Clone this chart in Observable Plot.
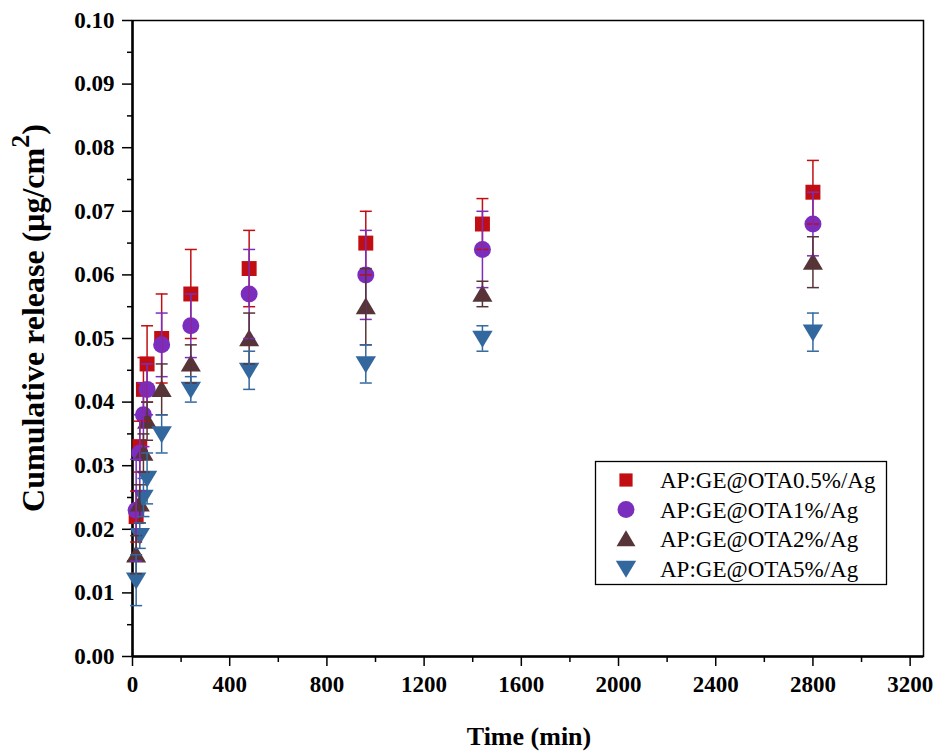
<!DOCTYPE html>
<html>
<head>
<meta charset="utf-8">
<script src="https://cdn.jsdelivr.net/npm/d3@7"></script>
<script src="https://cdn.jsdelivr.net/npm/@observablehq/plot@0.6"></script>
<style>
  html, body { margin: 0; padding: 0; background: white; }
  svg text { font-family: "Liberation Serif", "Times New Roman", serif; }
</style>
</head>
<body>
<div id="chart"></div>
<script>
// ---- data ----
const times = [15, 30, 45, 60, 120, 240, 480, 960, 1440, 2800];
const seriesNames = ["AP:GE@OTA0.5%/Ag", "AP:GE@OTA1%/Ag", "AP:GE@OTA2%/Ag", "AP:GE@OTA5%/Ag"];
const seriesColors = ["#c10e12", "#7b2ebe", "#573437", "#33689f"];
const mean05 = [0.022, 0.033, 0.042, 0.046, 0.050, 0.057, 0.061, 0.065, 0.068, 0.073];
const err05  = [0.004, 0.004, 0.005, 0.006, 0.007, 0.007, 0.006, 0.005, 0.004, 0.005];
const mean1  = [0.023, 0.032, 0.038, 0.042, 0.049, 0.052, 0.057, 0.060, 0.064, 0.068];
const err1   = [0.008, 0.006, 0.005, 0.004, 0.005, 0.005, 0.007, 0.007, 0.006, 0.005];
const mean2  = [0.016, 0.024, 0.032, 0.037, 0.042, 0.046, 0.050, 0.055, 0.057, 0.062];
const err2   = [0.003, 0.003, 0.003, 0.003, 0.004, 0.003, 0.004, 0.006, 0.002, 0.004];
const mean5  = [0.012, 0.019, 0.025, 0.028, 0.035, 0.042, 0.045, 0.046, 0.050, 0.051];
const err5   = [0.004, 0.002, 0.003, 0.004, 0.003, 0.002, 0.003, 0.003, 0.002, 0.003];
const xTicks = [0, 400, 800, 1200, 1600, 2000, 2400, 2800, 3200];
const xMinorTicks = [200, 600, 1000, 1400, 1800, 2200, 2600, 3000];
const yTicks = [0, 0.01, 0.02, 0.03, 0.04, 0.05, 0.06, 0.07, 0.08, 0.09, 0.10];
const yMinorTicks = [0.005, 0.015, 0.025, 0.035, 0.045, 0.055, 0.065, 0.075, 0.085, 0.095];

const means = [mean05, mean1, mean2, mean5];
const errs = [err05, err1, err2, err5];
const shapes = ["square", "circle", "triangle", "triangleDown"];

const rows = [];
seriesNames.forEach((s, i) => {
  times.forEach((t, j) => rows.push({series: s, t, v: means[i][j], e: errs[i][j]}));
});

// ---- symbol shapes ----
function drawShape(ctx, kind, r) {
  if (kind === "square") {
    const h = 0.88 * r; ctx.rect(-h, -h, 2 * h, 2 * h);
  } else if (kind === "circle") {
    ctx.moveTo(r, 0); ctx.arc(0, 0, r, 0, 2 * Math.PI);
  } else if (kind === "triangle") {
    const w = 1.18 * r, hh = r;
    ctx.moveTo(0, -hh * 1.1); ctx.lineTo(w, hh * 0.9); ctx.lineTo(-w, hh * 0.9); ctx.closePath();
  } else if (kind === "triangleDown") {
    const w = 1.2 * r, hh = r;
    ctx.moveTo(0, hh * 1.1); ctx.lineTo(w, -hh * 0.9); ctx.lineTo(-w, -hh * 0.9); ctx.closePath();
  }
}
function makeSymbol(kind) {
  return {draw(ctx, size) { drawShape(ctx, kind, Math.sqrt(size / Math.PI)); }};
}
const capSymbol = {draw(ctx, size) { ctx.moveTo(-6, 0); ctx.lineTo(6, 0); }};

const markerMarks = seriesNames.map((s, i) =>
  Plot.dot(rows.filter(d => d.series === s), {
    x: "t", y: "v", fill: "series", stroke: "none", r: 8.5, symbol: makeSymbol(shapes[i])
  })
);
const errorMarks = seriesNames.flatMap((s) => {
  const data = rows.filter(d => d.series === s);
  return [
    Plot.ruleX(data, {x: "t", y1: d => d.v - d.e, y2: d => d.v + d.e, stroke: "series", strokeWidth: 1.5}),
    Plot.dot(data, {x: "t", y: d => d.v + d.e, symbol: capSymbol, fill: "none", stroke: "series", strokeWidth: 1.5, r: 5}),
    Plot.dot(data, {x: "t", y: d => d.v - d.e, symbol: capSymbol, fill: "none", stroke: "series", strokeWidth: 1.5, r: 5})
  ];
});

const font = "Liberation Serif";

const svg = Plot.plot({
  width: 939,
  height: 756,
  marginLeft: 132,
  marginRight: 16,
  marginTop: 20,
  marginBottom: 100,
  x: {domain: [0, 3255]},
  y: {domain: [0, 0.1]},
  color: {domain: seriesNames, range: seriesColors},
  style: {fontFamily: font, fontSize: "22px", color: "black", background: "white"},
  marks: [
    Plot.frame({stroke: "black", strokeWidth: 1.5}),
    Plot.axisY(yMinorTicks, {tickSize: 5, tickFormat: () => "", label: null, strokeWidth: 1.5}),
    Plot.axisY(yTicks, {tickSize: 10, tickPadding: 8, tickFormat: d3.format(".2f"), label: null,
      fontFamily: font, fontWeight: "bold", fontSize: 23, strokeWidth: 1.5}),
    Plot.axisX(xMinorTicks, {tickSize: 6, tickFormat: () => "", label: null, strokeWidth: 1.5}),
    Plot.axisX(xTicks, {tickSize: 10, tickPadding: 9, tickFormat: d => String(d), label: null,
      fontFamily: font, fontWeight: "bold", fontSize: 23, strokeWidth: 1.5}),
    Plot.ruleX([0], {stroke: "black", strokeWidth: 2.5}),
    Plot.ruleY([0], {stroke: "black", strokeWidth: 2.5}),
    ...markerMarks,
    ...errorMarks
  ]
});

const root = d3.select(svg);

// x axis title
root.append("text")
  .attr("x", 529).attr("y", 745)
  .attr("text-anchor", "middle")
  .attr("font-family", font).attr("font-weight", "bold").attr("font-size", 26)
  .attr("fill", "black")
  .text("Time (min)");

// y axis title with superscript
const yl = root.append("text")
  .attr("transform", "translate(44,318) rotate(-90)")
  .attr("text-anchor", "middle")
  .attr("font-family", font).attr("font-weight", "bold").attr("font-size", 32)
  .attr("fill", "black");
yl.append("tspan").text("Cumulative release (μg/cm");
yl.append("tspan").attr("dy", -15).attr("font-size", 26).text("2");
yl.append("tspan").attr("dy", 15).text(")");

// legend
const lg = root.append("g");
lg.append("rect").attr("x", 595.5).attr("y", 461.5).attr("width", 291).attr("height", 123)
  .attr("fill", "white").attr("stroke", "black").attr("stroke-width", 1.3);
const legendSizes = [7.5, 8.5, 8.0, 8.5];
seriesNames.forEach((s, i) => {
  const cy = 480 + i * 29.5;
  const p = d3.path();
  drawShape(p, shapes[i], legendSizes[i]);
  lg.append("path").attr("d", p.toString()).attr("transform", `translate(626,${cy})`)
    .attr("fill", seriesColors[i]);
  lg.append("text").attr("x", 660).attr("y", cy + 8)
    .attr("text-anchor", "start")
    .attr("font-family", font).attr("font-size", 23).attr("fill", "black")
    .text(s);
});

document.getElementById("chart").appendChild(svg);
</script>
</body>
</html>
